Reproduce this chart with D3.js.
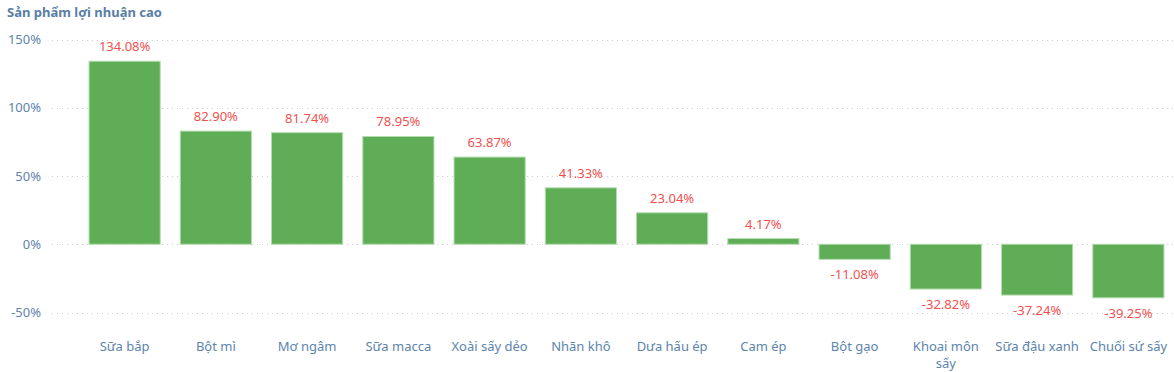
<!DOCTYPE html>
<html>
<head>
<meta charset="utf-8">
<script src="https://cdn.jsdelivr.net/npm/d3@7"></script>
<style>
  body { margin: 0; background: #fff; font-family: "Noto Sans", "Open Sans", sans-serif; }
  svg text { font-family: "Noto Sans", "Open Sans", sans-serif; }
</style>
</head>
<body>
<div id="chart"></div>
<script>
// data
const categories = ["Sữa bắp", "Bột mì", "Mơ ngâm", "Sữa macca", "Xoài sấy dẻo", "Nhãn khô",
  "Dưa hấu ép", "Cam ép", "Bột gạo", "Khoai môn sấy", "Sữa đậu xanh", "Chuối sứ sấy"];
const profits = [134.08, 82.90, 81.74, 78.95, 63.87, 41.33, 23.04, 4.17, -11.08, -32.82, -37.24, -39.25];
const yTicks = [-50, 0, 50, 100, 150];

const width = 1174, height = 372;
const axisColor = "#5d84ab";

const svg = d3.select("#chart").append("svg")
  .attr("width", width)
  .attr("height", height);

// title
svg.append("text")
  .attr("x", 7)
  .attr("y", 17)
  .attr("fill", "#5a7ea5")
  .attr("font-size", 13)
  .attr("font-weight", "bold")
  .text("Sản phẩm lợi nhuận cao");

// scales
const x = d3.scaleBand()
  .domain(categories)
  .range([79, 1174])
  .paddingInner(0.22)
  .paddingOuter(0.11);

const y = d3.scaleLinear()
  .domain([-50, 150])
  .range([312.5, 39.5]);

// grid
svg.append("g")
  .selectAll("line")
  .data(yTicks)
  .join("line")
  .attr("x1", 52)
  .attr("x2", width)
  .attr("y1", d => Math.round(y(d)) + 0.5)
  .attr("y2", d => Math.round(y(d)) + 0.5)
  .attr("stroke", "#cfcfcf")
  .attr("stroke-dasharray", "1,4");

// y axis labels
svg.append("g")
  .selectAll("text")
  .data(yTicks)
  .join("text")
  .attr("x", 41)
  .attr("y", d => y(d))
  .attr("dy", "0.35em")
  .attr("text-anchor", "end")
  .attr("fill", axisColor)
  .attr("font-size", 13)
  .text(d => d + "%");

// bars
svg.append("g")
  .selectAll("rect")
  .data(categories)
  .join("rect")
  .attr("x", d => x(d))
  .attr("width", x.bandwidth())
  .attr("y", (d, i) => y(Math.max(0, profits[i])))
  .attr("height", (d, i) => Math.abs(y(profits[i]) - y(0)))
  .attr("fill", "#5fad56")
  .attr("stroke", "#b5dcb0")
  .attr("stroke-width", 1);

// value labels
svg.append("g")
  .selectAll("text")
  .data(categories)
  .join("text")
  .attr("x", d => x(d) + x.bandwidth() / 2)
  .attr("y", (d, i) => profits[i] >= 0 ? y(profits[i]) - 10 : y(profits[i]) + 20)
  .attr("text-anchor", "middle")
  .attr("fill", "#f0514f")
  .attr("font-size", 13)
  .text((d, i) => profits[i].toFixed(2) + "%");

// x labels (wrap to band width)
const xLabels = svg.append("g")
  .selectAll("text")
  .data(categories)
  .join("text")
  .attr("x", d => x(d) + x.bandwidth() / 2)
  .attr("y", 351)
  .attr("text-anchor", "middle")
  .attr("fill", axisColor)
  .attr("font-size", 13);

xLabels.each(function (d) {
  const el = d3.select(this);
  const maxW = x.step() - 4;
  const words = d.split(" ");
  let line = [];
  let tspan = el.append("tspan").attr("x", x(d) + x.bandwidth() / 2).attr("dy", 0);
  words.forEach(w => {
    line.push(w);
    tspan.text(line.join(" "));
    if (tspan.node().getComputedTextLength() > maxW && line.length > 1) {
      line.pop();
      tspan.text(line.join(" "));
      line = [w];
      tspan = el.append("tspan")
        .attr("x", x(d) + x.bandwidth() / 2)
        .attr("dy", "1.3em")
        .text(w);
    }
  });
});
</script>
</body>
</html>
